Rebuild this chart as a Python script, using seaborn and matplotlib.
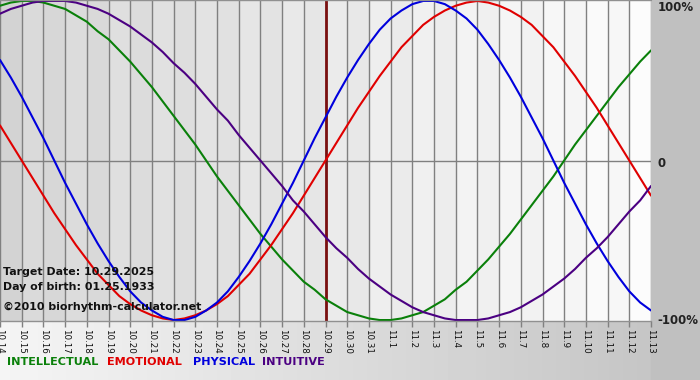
import numpy as np
import pandas as pd
import seaborn as sns
import matplotlib.pyplot as plt

# days shown on the chart
dates = ['10.14', '10.15', '10.16', '10.17', '10.18', '10.19', '10.20', '10.21',
         '10.22', '10.23', '10.24', '10.25', '10.26', '10.27', '10.28', '10.29',
         '10.30', '10.31', '11.1', '11.2', '11.3', '11.4', '11.5', '11.6', '11.7',
         '11.8', '11.9', '11.10', '11.11', '11.12', '11.13']

# values every half day (-1 .. 1), starting at 10.14
intellectual = [0.97, 0.99, 1.00, 1.00, 0.99, 0.97, 0.95, 0.91, 0.87, 0.81, 0.76,
                0.69, 0.62, 0.54, 0.46, 0.37, 0.28, 0.19, 0.10, 0.00, -0.10, -0.19,
                -0.28, -0.37, -0.46, -0.54, -0.62, -0.69, -0.76, -0.81, -0.87, -0.91,
                -0.95, -0.97, -0.99, -1.00, -1.00, -0.99, -0.97, -0.95, -0.91, -0.87,
                -0.81, -0.76, -0.69, -0.62, -0.54, -0.46, -0.37, -0.28, -0.19, -0.10,
                0.00, 0.10, 0.19, 0.28, 0.37, 0.46, 0.54, 0.62, 0.69]
emotional = [0.22, 0.11, 0.00, -0.11, -0.22, -0.33, -0.43, -0.53, -0.62, -0.71, -0.78,
             -0.85, -0.90, -0.94, -0.97, -0.99, -1.00, -0.99, -0.97, -0.94, -0.90,
             -0.85, -0.78, -0.71, -0.62, -0.53, -0.43, -0.33, -0.22, -0.11, 0.00,
             0.11, 0.22, 0.33, 0.43, 0.53, 0.62, 0.71, 0.78, 0.85, 0.90, 0.94, 0.97,
             0.99, 1.00, 0.99, 0.97, 0.94, 0.90, 0.85, 0.78, 0.71, 0.62, 0.53, 0.43,
             0.33, 0.22, 0.11, 0.00, -0.11, -0.22]
physical = [0.63, 0.52, 0.40, 0.27, 0.14, 0.00, -0.14, -0.27, -0.40, -0.52, -0.63,
            -0.73, -0.82, -0.89, -0.94, -0.98, -1.00, -1.00, -0.98, -0.94, -0.89,
            -0.82, -0.73, -0.63, -0.52, -0.40, -0.27, -0.14, 0.00, 0.14, 0.27, 0.40,
            0.52, 0.63, 0.73, 0.82, 0.89, 0.94, 0.98, 1.00, 1.00, 0.98, 0.94, 0.89,
            0.82, 0.73, 0.63, 0.52, 0.40, 0.27, 0.14, 0.00, -0.14, -0.27, -0.40,
            -0.52, -0.63, -0.73, -0.82, -0.89, -0.94]
intuitive = [0.92, 0.95, 0.97, 0.99, 1.00, 1.00, 1.00, 0.99, 0.97, 0.95, 0.92, 0.88,
             0.84, 0.79, 0.74, 0.68, 0.61, 0.55, 0.48, 0.40, 0.32, 0.25, 0.16, 0.08,
             0.00, -0.08, -0.16, -0.25, -0.32, -0.40, -0.48, -0.55, -0.61, -0.68,
             -0.74, -0.79, -0.84, -0.88, -0.92, -0.95, -0.97, -0.99, -1.00, -1.00,
             -1.00, -0.99, -0.97, -0.95, -0.92, -0.88, -0.84, -0.79, -0.74, -0.68,
             -0.61, -0.55, -0.48, -0.40, -0.32, -0.25, -0.16]

target_idx = 15  # 10.29
series_names = ['INTELLECTUAL', 'EMOTIONAL', 'PHYSICAL', 'INTUITIVE']
colors = {'INTELLECTUAL': '#0a800a', 'EMOTIONAL': '#e00000',
          'PHYSICAL': '#0000dd', 'INTUITIVE': '#4b0082'}

rows = []
for name, vals in zip(series_names, [intellectual, emotional, physical, intuitive]):
    for i, v in enumerate(vals):
        rows.append({'day': i / 2, 'value': v, 'rhythm': name})
df = pd.DataFrame(rows)

sns.set_theme(style='white')
plt.rcParams['font.family'] = ['DejaVu Sans']

W, H = 700, 380
fig = plt.figure(figsize=(7, 3.8), dpi=100)

# background gradient for the whole picture
bg = fig.add_axes([0, 0, 1, 1])
grad = np.linspace(0.96, 0.76, 200).reshape(1, -1)
bg.imshow(grad, cmap='gray', vmin=0, vmax=1, aspect='auto', extent=[0, 1, 0, 1])
bg.axis('off')
# right grey strip
bg.add_patch(plt.Rectangle((651 / W, 0), 1, 1, color='#c0c0c0', zorder=2))

plot_bottom = 321
ax = fig.add_axes([0, 1 - plot_bottom / H, 651 / W, plot_bottom / H])
n = len(dates) - 1

# column shading: light gradient with alternating bands
shade = np.linspace(0.84, 0.98, n)
shade = shade + np.where(np.arange(n) % 2 == 0, -0.008, 0.008)
ax.imshow(shade.reshape(1, -1), cmap='gray', vmin=0, vmax=1, aspect='auto',
          extent=[0, n, -1.006, 1.006], zorder=0, interpolation='nearest')

for i in range(len(dates)):
    ax.axvline(i, color='#808080', lw=1, zorder=1)
ax.axhline(0, color='#808080', lw=1, zorder=1)
ax.axvline(target_idx, color='#7a1010', lw=2, zorder=2)

sns.lineplot(data=df, x='day', y='value', hue='rhythm', palette=colors,
             hue_order=series_names, lw=1.5, legend=False, ax=ax, zorder=3)

ax.set_xlim(0, n)
ax.set_ylim(-1.006, 1.006)
ax.set_xticks(range(len(dates)))
ax.set_xticklabels(dates, rotation=-90, fontsize=6.3, color='#111111')
ax.set_yticks([])
ax.set_xlabel('')
ax.set_ylabel('')
ax.tick_params(axis='x', length=4, width=1, color='#808080', pad=2, bottom=True)
for side in ['left', 'right', 'bottom', 'top']:
    ax.spines[side].set_visible(False)
ax.plot([0, n], [1.006, 1.006], color='#909090', lw=1, clip_on=False, zorder=4)
ax.plot([0, n], [-1.006, -1.006], color='#909090', lw=1, clip_on=False, zorder=4)

# right side percentage labels
for y, lab, va in [(1.0, '100%', 'top'), (-0.02, '0', 'center'),
                   (-1.0, '-100%', 'center')]:
    ax.text(1.01, y, lab, transform=ax.get_yaxis_transform(), fontsize=8.5,
            fontweight='bold', color='#222222', va=va, ha='left',
            clip_on=False)

# info texts
info = [('Target Date: 10.29.2025', 272), ('Day of birth: 01.25.1933', 287),
        ('\u00a92010 biorhythm-calculator.net', 307)]
for txt, ypix in info:
    fig.text(3 / W, 1 - ypix / H, txt, fontsize=7.9, fontweight='bold',
             color='#111111', va='center', ha='left')

# colored legend words
leg_x = [7, 107, 193, 262]
for name, xp in zip(series_names, leg_x):
    fig.text(xp / W, 1 - 362 / H, name, fontsize=8.1, fontweight='bold',
             color=colors[name], va='center', ha='left')

fig.savefig('out.png', dpi=100)
